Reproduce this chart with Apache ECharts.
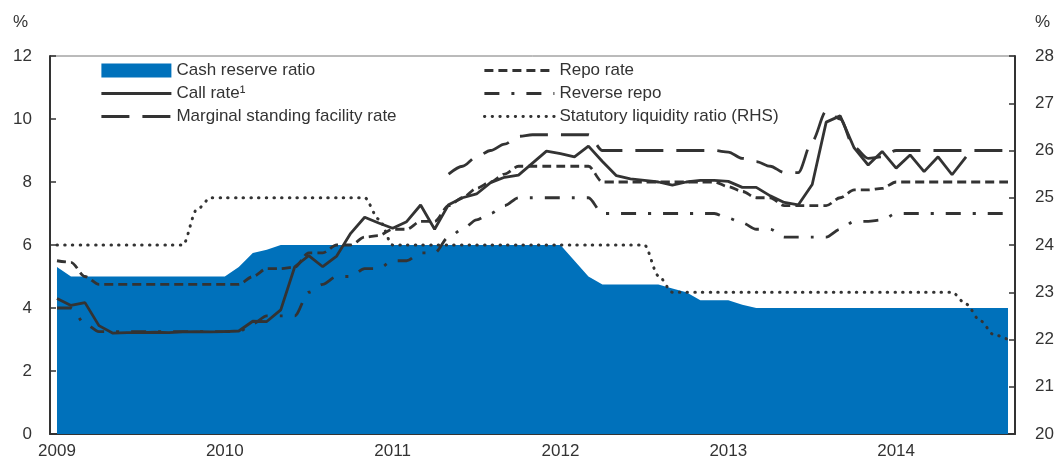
<!DOCTYPE html>
<html>
<head>
<meta charset="utf-8">
<script src="https://cdn.jsdelivr.net/npm/echarts@6/dist/echarts.min.js"></script>
<style>
html, body { margin: 0; padding: 0; background: #fff; }
#chart { width: 1055px; height: 462px; }
</style>
</head>
<body>
<div id="chart"></div>
<script>
// monthly data, Jan 2009 .. Sep 2014
const years = ['2009', '2010', '2011', '2012', '2013', '2014']
const monthsShown = 69

const cashReserveRatio = [
    5.3, 5.0, 5.0, 5.0, 5.0, 5.0, 5.0, 5.0, 5.0, 5.0, 5.0, 5.0,
    5.0, 5.3, 5.75, 5.85, 6.0, 6.0, 6.0, 6.0, 6.0, 6.0, 6.0, 6.0,
    6.0, 6.0, 6.0, 6.0, 6.0, 6.0, 6.0, 6.0, 6.0, 6.0, 6.0, 6.0,
    6.0, 5.5, 5.0, 4.75, 4.75, 4.75, 4.75, 4.75, 4.62, 4.5, 4.25, 4.25,
    4.25, 4.1, 4.0, 4.0, 4.0, 4.0, 4.0, 4.0, 4.0, 4.0, 4.0, 4.0,
    4.0, 4.0, 4.0, 4.0, 4.0, 4.0, 4.0, 4.0, 4.0
]
const callRate = [
    4.3, 4.08, 4.17, 3.44, 3.2, 3.22, 3.22, 3.23, 3.22, 3.24, 3.25, 3.24,
    3.25, 3.27, 3.58, 3.57, 3.94, 5.31, 5.66, 5.31, 5.65, 6.37, 6.88, 6.7,
    6.53, 6.74, 7.27, 6.5, 7.28, 7.5, 7.62, 7.98, 8.15, 8.22, 8.6, 8.98,
    8.9, 8.8, 9.14, 8.65, 8.2, 8.1, 8.05, 8.0, 7.9, 8.0, 8.05, 8.05,
    8.02, 7.83, 7.83, 7.56, 7.35, 7.27, 7.92, 9.9, 10.1, 9.08, 8.54, 8.97,
    8.44, 8.86, 8.33, 8.8, 8.23, 8.8, null, null, null
]
const msfRate = [
    null, null, null, null, null, null, null, null, null, null, null, null,
    null, null, null, null, null, null, null, null, null, null, null, null,
    null, null, null, null, 8.25, 8.5, 8.8, 9.0, 9.2, 9.45, 9.5, 9.5,
    9.5, 9.5, 9.5, 9.0, 9.0, 9.0, 9.0, 9.0, 9.0, 9.0, 9.0, 9.0,
    8.95, 8.75, 8.65, 8.5, 8.3, 8.3, 9.3, 10.25, 10.0, 9.1, 8.75, 8.8,
    9.0, 9.0, 9.0, 9.0, 9.0, 9.0, 9.0, 9.0, 9.0
]
const repoRate = [
    5.5, 5.45, 5.0, 4.75, 4.75, 4.75, 4.75, 4.75, 4.75, 4.75, 4.75, 4.75,
    4.75, 4.75, 5.0, 5.25, 5.25, 5.3, 5.75, 5.75, 6.0, 6.0, 6.25, 6.3,
    6.5, 6.5, 6.75, 6.75, 7.25, 7.5, 7.8, 8.0, 8.25, 8.5, 8.5, 8.5,
    8.5, 8.5, 8.5, 8.0, 8.0, 8.0, 8.0, 8.0, 8.0, 8.0, 8.0, 8.0,
    7.85, 7.7, 7.5, 7.5, 7.25, 7.25, 7.25, 7.25, 7.5, 7.75, 7.75, 7.8,
    8.0, 8.0, 8.0, 8.0, 8.0, 8.0, 8.0, 8.0, 8.0
]
const reverseRepo = [
    4.0, 4.0, 3.5, 3.25, 3.25, 3.25, 3.25, 3.25, 3.25, 3.25, 3.25, 3.25,
    3.25, 3.25, 3.5, 3.75, 3.75, 3.75, 4.5, 4.75, 5.0, 5.0, 5.25, 5.25,
    5.5, 5.5, 5.75, 5.75, 6.25, 6.5, 6.8, 7.0, 7.25, 7.5, 7.5, 7.5,
    7.5, 7.5, 7.5, 7.0, 7.0, 7.0, 7.0, 7.0, 7.0, 7.0, 7.0, 7.0,
    6.85, 6.7, 6.5, 6.5, 6.25, 6.25, 6.25, 6.25, 6.5, 6.75, 6.75, 6.8,
    7.0, 7.0, 7.0, 7.0, 7.0, 7.0, 7.0, 7.0, 7.0
]
// right hand scale
const slr = [
    24, 24, 24, 24, 24, 24, 24, 24, 24, 24, 24.75, 25,
    25, 25, 25, 25, 25, 25, 25, 25, 25, 25, 25, 24.55,
    24, 24, 24, 24, 24, 24, 24, 24, 24, 24, 24, 24,
    24, 24, 24, 24, 24, 24, 24, 23.35, 23, 23, 23, 23,
    23, 23, 23, 23, 23, 23, 23, 23, 23, 23, 23, 23,
    23, 23, 23, 23, 23, 22.75, 22.4, 22.1, 22.0
]

const months = []
years.forEach(y => {
    for (let m = 1; m <= 12; m++) months.push(y + '-' + m)
})
months.length = monthsShown

const FONT = "'Liberation Sans', Arial, sans-serif"
const FS = 17
const INK = '#333333'
const BLUE = '#0071bb'

const chart = echarts.init(document.getElementById('chart'))

const lineSeries = (name, data, dash, extra) => Object.assign({
    name: name,
    type: 'line',
    data: data,
    symbol: 'none',
    smooth: 0.3,
    smoothMonotone: 'x',
    color: INK,
    lineStyle: { color: INK, width: 2.8, type: dash },
    z: 3
}, extra || {})

const legendBase = {
    top: 57, orient: 'vertical',
    padding: 5,
    itemWidth: 70, itemHeight: 14, itemGap: 6,
    selectedMode: false,
    itemStyle: { opacity: 0 },   // hide the circle drawn for line series
    lineStyle: { width: 2.8 },
    textStyle: { fontFamily: FONT, fontSize: FS, color: INK }
}

const axisText = { fontSize: FS, color: INK, fontFamily: FONT }

chart.setOption({
    animation: false,
    textStyle: { fontFamily: FONT },
    grid: {
        left: 50, right: 40, top: 56, bottom: 28,
        show: true, borderColor: '#777', borderWidth: 1,
        outerBoundsMode: 'none'
    },
    legend: [
        Object.assign({}, legendBase, {
            left: 95,
            data: [
                { name: 'Cash reserve ratio', icon: 'rect', itemStyle: { opacity: 1, color: BLUE } },
                'Call rate¹',
                'Marginal standing facility rate'
            ]
        }),
        Object.assign({}, legendBase, {
            left: 478,
            data: ['Repo rate', 'Reverse repo', 'Statutory liquidity ratio (RHS)']
        })
    ],
    xAxis: {
        type: 'category',
        data: months,
        boundaryGap: true,
        axisLine: { lineStyle: { color: INK, width: 2 } },
        axisTick: { inside: true, length: 6, interval: 0, lineStyle: { color: INK, width: 1.5 } },
        axisLabel: Object.assign({
            interval: idx => idx % 12 === 0,
            formatter: v => v.split('-')[0],
            margin: 9
        }, axisText),
        splitLine: { show: false }
    },
    yAxis: [
        {
            type: 'value', position: 'left',
            min: 0, max: 12, interval: 2,
            name: '%', nameLocation: 'end', nameGap: 25,
            nameTextStyle: Object.assign({ align: 'right', padding: [0, 22, 0, 0] }, axisText),
            axisLine: { show: true, lineStyle: { color: INK, width: 2 } },
            axisTick: { show: true, inside: true, length: 6, lineStyle: { color: INK, width: 1.5 } },
            axisLabel: Object.assign({ margin: 18 }, axisText),
            splitLine: { show: false }
        },
        {
            type: 'value', position: 'right',
            min: 20, max: 28, interval: 1,
            name: '%', nameLocation: 'end', nameGap: 25,
            nameTextStyle: Object.assign({ align: 'left', padding: [0, 0, 0, 20] }, axisText),
            axisLine: { show: true, lineStyle: { color: INK, width: 2 } },
            axisTick: { show: true, inside: true, length: 6, lineStyle: { color: INK, width: 1.5 } },
            axisLabel: Object.assign({ margin: 20 }, axisText),
            splitLine: { show: false }
        }
    ],
    series: [
        {
            name: 'Cash reserve ratio',
            type: 'line',
            data: cashReserveRatio,
            symbol: 'none',
            color: BLUE,
            itemStyle: { color: BLUE },
            lineStyle: { width: 0, color: BLUE },
            areaStyle: { color: BLUE, opacity: 1 },
            z: 1
        },
        lineSeries('Repo rate', repoRate, [9, 5]),
        lineSeries('Reverse repo', reverseRepo, [15, 12, 3, 12]),
        lineSeries('Statutory liquidity ratio (RHS)', slr, [0.5, 7.2], {
            yAxisIndex: 1,
            lineStyle: { color: INK, width: 3, type: [0.5, 7.2], cap: 'round' }
        }),
        lineSeries('Marginal standing facility rate', msfRate, [28, 13]),
        lineSeries('Call rate¹', callRate, 'solid', { smooth: false, z: 4 })
    ]
})
</script>
</body>
</html>
